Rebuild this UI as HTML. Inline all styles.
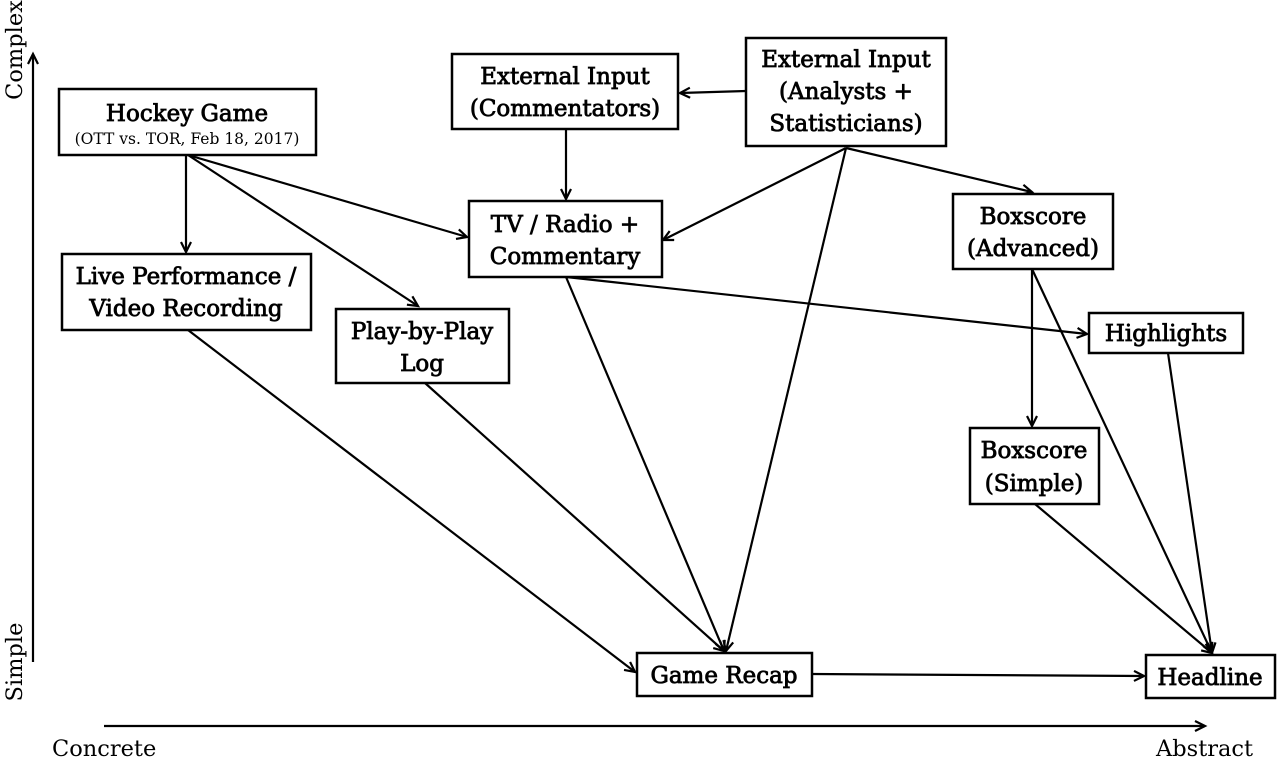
<!DOCTYPE html>
<html><head><meta charset="utf-8"><style>
html,body{margin:0;padding:0;background:#fff;}
svg{display:block;}
.b{fill:#fff;stroke:#000;stroke-width:2.5;}
.t{font-family:"DejaVu Serif","Liberation Serif",serif;font-size:23px;text-anchor:middle;fill:#000;stroke:#000;stroke-width:0.8;}
.s{font-family:"DejaVu Serif","Liberation Serif",serif;font-size:15.5px;text-anchor:middle;fill:#000;}
.a{font-family:"DejaVu Serif","Liberation Serif",serif;font-size:22.5px;fill:#000;}
.l{stroke:#000;stroke-width:2.2;fill:none;marker-end:url(#m);}
</style></head><body>
<svg width="1277" height="758" viewBox="0 0 1277 758" xmlns="http://www.w3.org/2000/svg">
<defs><marker id="m" markerWidth="14" markerHeight="14" refX="11" refY="6" orient="auto" markerUnits="userSpaceOnUse"><path d="M1,1 L11,6 L1,11" fill="none" stroke="#000" stroke-width="2.2"/></marker></defs>
<line class="l" x1="33" y1="662" x2="33" y2="54"/>
<line class="l" x1="104" y1="726" x2="1205" y2="726"/>
<text class="a" transform="translate(22,50) rotate(-90)" text-anchor="middle">Complex</text>
<text class="a" transform="translate(22,662) rotate(-90)" text-anchor="middle">Simple</text>
<text class="a" x="52" y="756">Concrete</text>
<text class="a" x="1156" y="756">Abstract</text>
<line class="l" x1="186" y1="155" x2="186" y2="252"/>
<line class="l" x1="188" y1="155" x2="467" y2="237"/>
<line class="l" x1="188" y1="155" x2="418" y2="306"/>
<line class="l" x1="566" y1="129" x2="566" y2="199"/>
<line class="l" x1="746" y1="91" x2="680" y2="93"/>
<line class="l" x1="846" y1="148" x2="663" y2="240"/>
<line class="l" x1="846" y1="148" x2="1032" y2="192"/>
<line class="l" x1="846" y1="148" x2="726" y2="651"/>
<line class="l" x1="188" y1="330" x2="635" y2="672"/>
<line class="l" x1="425" y1="383" x2="724" y2="651"/>
<line class="l" x1="566" y1="277" x2="724" y2="651"/>
<line class="l" x1="566" y1="277" x2="1087" y2="334"/>
<line class="l" x1="1032" y1="269" x2="1032" y2="426"/>
<line class="l" x1="1032" y1="269" x2="1212" y2="653"/>
<line class="l" x1="1168" y1="353" x2="1212" y2="653"/>
<line class="l" x1="1035" y1="504" x2="1212" y2="653"/>
<line class="l" x1="812" y1="674" x2="1144" y2="676"/>
<rect class="b" x="59" y="89" width="257" height="66"/>
<text class="t" x="187" y="121">Hockey Game</text>
<text class="s" x="187" y="144">(OTT vs. TOR, Feb 18, 2017)</text>
<rect class="b" x="62" y="254" width="249" height="76"/>
<text class="t" x="186" y="284">Live Performance /</text>
<text class="t" x="186" y="316">Video Recording</text>
<rect class="b" x="336" y="309" width="173" height="74"/>
<text class="t" x="422" y="339">Play-by-Play</text>
<text class="t" x="422" y="371">Log</text>
<rect class="b" x="452" y="54" width="226" height="75"/>
<text class="t" x="565" y="84">External Input</text>
<text class="t" x="565" y="116">(Commentators)</text>
<rect class="b" x="746" y="38" width="200" height="108"/>
<text class="t" x="846" y="67">External Input</text>
<text class="t" x="846" y="99">(Analysts +</text>
<text class="t" x="846" y="131">Statisticians)</text>
<rect class="b" x="469" y="201" width="193" height="76"/>
<text class="t" x="565" y="232">TV / Radio +</text>
<text class="t" x="565" y="264">Commentary</text>
<rect class="b" x="953" y="194" width="160" height="75"/>
<text class="t" x="1033" y="224">Boxscore</text>
<text class="t" x="1033" y="256">(Advanced)</text>
<rect class="b" x="1089" y="313" width="154" height="40"/>
<text class="t" x="1166" y="341">Highlights</text>
<rect class="b" x="970" y="428" width="129" height="76"/>
<text class="t" x="1034" y="458">Boxscore</text>
<text class="t" x="1034" y="491">(Simple)</text>
<rect class="b" x="637" y="653" width="175" height="43"/>
<text class="t" x="724" y="683">Game Recap</text>
<rect class="b" x="1146" y="655" width="129" height="43"/>
<text class="t" x="1210" y="685">Headline</text>
</svg>
</body></html>
